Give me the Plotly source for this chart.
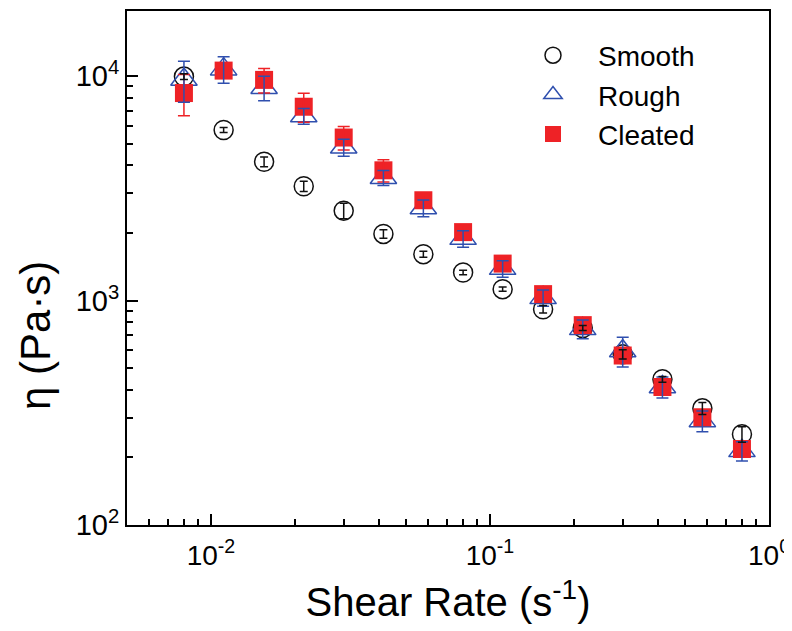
import plotly.graph_objects as go

shear_rate = [0.0080, 0.0111, 0.0155, 0.0215, 0.0299, 0.0415, 0.0577, 0.0801,
              0.111, 0.155, 0.215, 0.299, 0.415, 0.577, 0.80]

smooth = [9950, 5750, 4155, 3230, 2515, 1981, 1609, 1333, 1124, 915, 755, 576, 446, 331, 254]
smooth_err = [300, 150, 210, 170, 200, 85, 50, 30, 25, 35, 20, 27, 13, 20, 20]

rough = [9650, 10740, 8873, 6637, 4816, 3527, 2585, 1888, 1388, 1028, 748, 596, 412, 291, 214]
rough_err = [2000, 1450, 1100, 540, 420, 270, 220, 160, 118, 85, 72, 90, 44, 31, 21]

cleated = [8403, 10580, 9618, 7302, 5325, 3804, 2798, 2018, 1461, 1068, 777, 569, 412, 302, 218]
cleated_err = [1750, 700, 1200, 1080, 640, 430, 150, 150, 80, 60, 40, 30, 20, 15, 12]

x_tickvals = [0.01, 0.1, 1]
x_ticktext = ["10<sup>-2</sup>", "10<sup>-1</sup>", "10<sup>0</sup>"]
y_tickvals = [100, 1000, 10000]
y_ticktext = ["10<sup>2</sup>", "10<sup>3</sup>", "10<sup>4</sup>"]

BLACK = "#111111"
BLUE = "#2f4fae"
RED = "#ee2226"
FONT = "Liberation Sans, Arial, sans-serif"

# page body has an 8px margin; plot area is placed so that on screen it spans
# x 127..769 and y 11..525
M_L, M_R, M_T, M_B = 119, 31, 3, 114
PW = 792 - M_L - M_R
PH = 631 - M_T - M_B

fig = go.Figure()

# markers
fig.add_trace(go.Scatter(x=shear_rate, y=smooth, mode="markers", name="Smooth",
                         marker=dict(symbol="circle-open", size=19, color=BLACK,
                                     line=dict(width=1.5, color=BLACK))))
fig.add_trace(go.Scatter(x=shear_rate, y=rough, mode="markers", name="Rough",
                         marker=dict(symbol="triangle-up-open", size=23, color=BLUE,
                                     line=dict(width=1.5, color=BLUE))))
fig.add_trace(go.Scatter(x=shear_rate, y=cleated, mode="markers", name="Cleated",
                         marker=dict(symbol="square", size=18, color=RED,
                                     line=dict(width=0, color=RED))))

# error bars drawn on top
for vals, errs, col, w in [(cleated, cleated_err, RED, 6),
                           (rough, rough_err, BLUE, 6),
                           (smooth, smooth_err, BLACK, 4)]:
    fig.add_trace(go.Scatter(x=shear_rate, y=vals, mode="markers", showlegend=False,
                             hoverinfo="skip",
                             marker=dict(size=1, opacity=0, color=col),
                             error_y=dict(type="data", array=errs, visible=True,
                                          color=col, thickness=1.5, width=w)))

minor_x = [m * 10 ** e for e in (-3, -2, -1) for m in range(2, 10) if 0.005 <= m * 10 ** e <= 1]
minor_y = [m * 10 ** e for e in (2, 3) for m in range(2, 10)]

fig.update_layout(
    width=792, height=631,
    margin=dict(l=M_L, r=M_R, t=M_T, b=M_B),
    paper_bgcolor="white", plot_bgcolor="white",
    font=dict(family=FONT, color="black"),
    showlegend=True,
    legend=dict(x=(500 - M_L) / PW, y=1 - (22.5 - M_T) / PH, xanchor="left", yanchor="top",
                font=dict(size=28, family=FONT), bgcolor="rgba(0,0,0,0)",
                itemwidth=80, tracegroupgap=0),
    xaxis=dict(type="log", range=[-2.301, 0.0], automargin=False,
               tickmode="array", tickvals=x_tickvals, ticktext=x_ticktext,
               ticks="inside", ticklen=11, tickwidth=1.5, tickcolor="black",
               minor=dict(tickmode="array", tickvals=minor_x, ticks="inside",
                          ticklen=6, tickwidth=1.5, tickcolor="black", showgrid=False),
               showline=True, linewidth=2, linecolor="black", mirror=True,
               showgrid=False, zeroline=False,
               tickfont=dict(size=28, family=FONT), ticklabelstandoff=4,
               title=dict(text="Shear Rate (s<sup>-1</sup>)", font=dict(size=40, family=FONT),
                          standoff=18)),
    yaxis=dict(type="log", range=[2.0, 4.29], automargin=False,
               tickmode="array", tickvals=y_tickvals, ticktext=y_ticktext,
               ticks="inside", ticklen=11, tickwidth=1.5, tickcolor="black",
               minor=dict(tickmode="array", tickvals=minor_y, ticks="inside",
                          ticklen=6, tickwidth=1.5, tickcolor="black", showgrid=False),
               showline=True, linewidth=2, linecolor="black", mirror=True,
               showgrid=False, zeroline=False,
               tickfont=dict(size=29, family=FONT)),
    annotations=[dict(text="η (Pa·s)", textangle=-90, xref="paper", yref="paper",
                      x=(27 - M_L) / PW, y=(M_T + PH - 328) / PH,
                      xanchor="center", yanchor="middle",
                      showarrow=False, font=dict(size=42, family=FONT))],
)

fig.write_html("out.html")
